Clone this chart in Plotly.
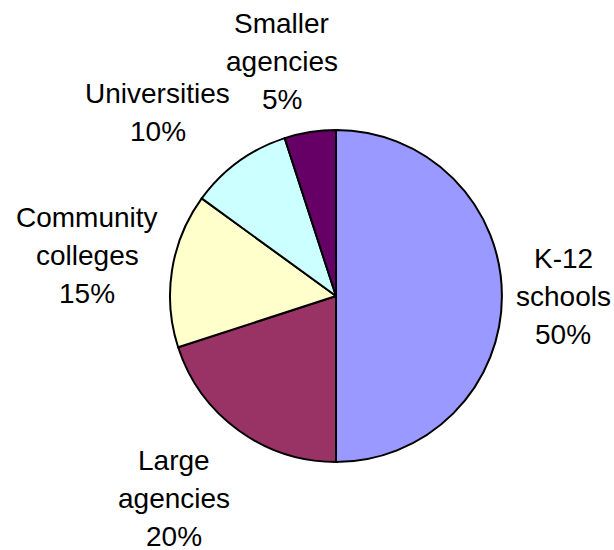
import math
import plotly.graph_objects as go

# Share of users by institution type
categories = ["K-12 schools", "Large agencies", "Community colleges", "Universities", "Smaller agencies"]
label_lines = [["K-12", "schools"], ["Large", "agencies"], ["Community", "colleges"], ["Universities"], ["Smaller", "agencies"]]
shares = [50, 20, 15, 10, 5]
colors = ["#9999FF", "#993366", "#FFFFCC", "#CCFFFF", "#660066"]

W, H = 614, 550
CX, CY, R = 336, 296, 166      # pie centre and radius in pixels
FONT = 28
LINE = 38                      # label line pitch in pixels
GAP = 14                       # distance of labels from the rim

# Arial / Liberation Sans advance widths (per 1000 em) for label width estimates
ADV = {"a": 556, "c": 500, "e": 556, "g": 556, "i": 222, "l": 222, "m": 833, "n": 556,
       "o": 556, "r": 333, "s": 500, "t": 278, "u": 556, "v": 500, "y": 500, "h": 556,
       "C": 722, "K": 667, "L": 556, "S": 667, "U": 722, "-": 333, "%": 889, " ": 278}


def text_width(s):
    return sum(ADV.get(ch, 556) for ch in s) * FONT / 1000.0


fig = go.Figure(
    go.Pie(
        labels=categories,
        values=shares,
        sort=False,
        direction="clockwise",
        rotation=0,
        marker=dict(colors=colors, line=dict(color="black", width=2)),
        textinfo="none",
        hoverinfo="label+percent",
        showlegend=False,
        domain=dict(x=[(CX - R) / W, (CX + R) / W], y=[1 - (CY + R) / H, 1 - (CY - R) / H]),
    )
)

# Outside labels placed along each slice's mid-angle
total = sum(shares)
cum = 0
for name_lines, v in zip(label_lines, shares):
    mid = (cum + v / 2) / total * 2 * math.pi
    cum += v
    sx, dy = math.sin(mid), -math.cos(mid)
    lines = name_lines + [f"{round(100 * v / total)}%"]
    w = max(text_width(s) for s in lines)
    h = len(lines) * LINE
    px = CX + (R + GAP) * sx
    py = CY + (R + GAP) * dy
    fx = min(1.0, max(0.0, 0.5 - 1.5 * sx))
    fy = min(1.0, max(0.0, 0.5 - 0.7 * dy))
    bx = px + w * (0.5 - fx)
    by = py + h * (0.5 - fy)
    for i, s in enumerate(lines):
        ly = by + (i - (len(lines) - 1) / 2) * LINE
        fig.add_annotation(
            x=bx / W, y=1 - ly / H, xref="paper", yref="paper",
            text=s, showarrow=False, xanchor="center", yanchor="middle",
            borderpad=0,
            font=dict(family="Liberation Sans, Arial, sans-serif", size=FONT, color="black"),
        )

fig.update_layout(
    width=W, height=H, autosize=False,
    margin=dict(l=0, r=0, t=0, b=0),
    paper_bgcolor="white", plot_bgcolor="white",
)

fig.write_html("out.html")
